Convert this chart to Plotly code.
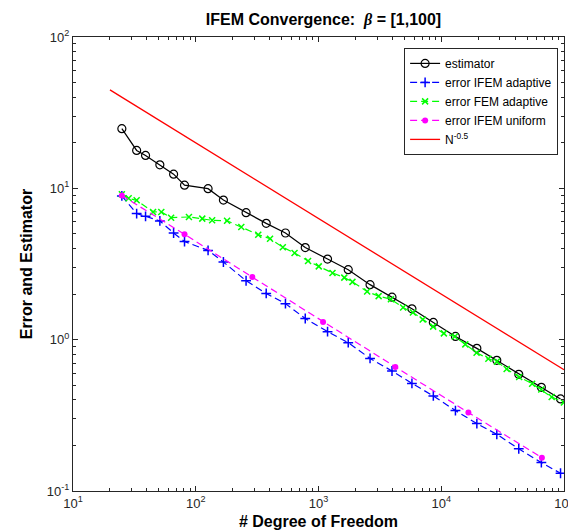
import plotly.graph_objects as go

# ---------------- data ----------------
N_adapt = [25, 33, 39, 51, 66, 81, 126, 168, 257, 375, 538, 780, 1185, 1747, 2630,
           3970, 5770, 8620, 13050, 19500, 28350, 42800, 65400, 93700]
est = [24.8, 17.8, 16.5, 14.3, 12.4, 10.5, 9.95, 8.37, 6.90, 5.87, 5.07, 4.06, 3.41,
       2.90, 2.31, 1.91, 1.60, 1.30, 1.05, 0.876, 0.730, 0.590, 0.484, 0.406]
err_ifem_adapt = [8.91, 6.81, 6.53, 6.09, 5.07, 4.45, 3.89, 3.26, 2.45, 2.02, 1.73, 1.38,
                  1.13, 0.955, 0.752, 0.621, 0.514, 0.425, 0.340, 0.279, 0.237, 0.190,
                  0.154, 0.131]

N_fem = [25, 28.4, 33, 44.9, 52.4, 63, 88, 113, 136, 180, 235, 323, 403, 512, 638, 822,
         1005, 1300, 1622, 1890, 2490, 3090, 3890, 4890, 5875, 7060, 8590, 10500, 12900,
         15700, 19400, 24200, 28400, 34100, 43100, 55000, 65300, 79400, 99700]
err_fem_adapt = [9.13, 8.59, 8.33, 6.98, 6.98, 6.40, 6.47, 6.31, 6.15, 6.10, 5.56, 4.94,
                 4.65, 4.08, 3.74, 3.31, 3.05, 2.76, 2.57, 2.41, 2.08, 1.94, 1.85, 1.63,
                 1.51, 1.36, 1.22, 1.10, 1.05, 0.931, 0.820, 0.748, 0.716, 0.640, 0.567,
                 0.512, 0.468, 0.418, 0.384]

N_unif = [25, 81, 289, 1089, 4225, 16641, 66049]
err_ifem_unif = [8.96, 4.97, 2.59, 1.31, 0.661, 0.330, 0.166]

N_ref = [20, 100000]
ref_rate = [44.7, 0.632]

x_tickvals = [10, 100, 1000, 10000, 100000]
x_ticktext = ["10<sup>1</sup>", "10<sup>2</sup>", "10<sup>3</sup>", "10<sup>4</sup>", "10<sup>5</sup>"]
y_tickvals = [0.1, 1, 10, 100]
y_ticktext = ["10<sup>-1</sup>", "10<sup>0</sup>", "10<sup>1</sup>", "10<sup>2</sup>"]

x_minor = [m * 10 ** k for k in range(1, 5) for m in range(2, 10)]
y_minor = [m * 10 ** k for k in range(-1, 2) for m in range(2, 10)]

FONT = "Liberation Sans, Arial, Helvetica, sans-serif"
AX = "#262626"

fig = go.Figure()
fig.add_trace(go.Scatter(x=N_adapt, y=est, mode="lines+markers", name="estimator",
                         line=dict(color="black", width=1.2),
                         marker=dict(symbol="circle-open", size=8, color="black",
                                     line=dict(width=1.2, color="black"))))
fig.add_trace(go.Scatter(x=N_adapt, y=err_ifem_adapt, mode="lines+markers",
                         name="error IFEM adaptive",
                         line=dict(color="#0000ff", width=1.2, dash="7px,4px"),
                         marker=dict(symbol="cross-thin-open", size=7, color="#0000ff",
                                     line=dict(width=1.5, color="#0000ff"))))
fig.add_trace(go.Scatter(x=N_fem, y=err_fem_adapt, mode="lines+markers",
                         name="error FEM adaptive",
                         line=dict(color="#00ff00", width=1.2, dash="7px,4px"),
                         marker=dict(symbol="x-thin-open", size=6, color="#00ff00",
                                     line=dict(width=1.5, color="#00ff00"))))
fig.add_trace(go.Scatter(x=N_unif, y=err_ifem_unif, mode="lines+markers",
                         name="error IFEM uniform",
                         line=dict(color="#ff00ff", width=1.2, dash="7px,4px"),
                         marker=dict(symbol="circle", size=6, color="#ff00ff")))
fig.add_trace(go.Scatter(x=N_ref, y=ref_rate, mode="lines", name="N<sup>-0.5</sup>",
                         line=dict(color="#ff0000", width=1.3)))

axis_common = dict(
    type="log", showgrid=False, zeroline=False, showline=True, linecolor=AX,
    linewidth=1, mirror="ticks", ticks="inside", ticklen=5, tickcolor=AX,
    tickmode="array", tickfont=dict(family=FONT, size=13, color=AX),
)

fig.update_xaxes(**axis_common, range=[1, 5], tickvals=x_tickvals, ticktext=x_ticktext,
                 minor=dict(ticks="inside", ticklen=3, tickcolor=AX, tickvals=x_minor),
                 title=dict(text="<b># Degree of Freedom</b>",
                            font=dict(family=FONT, size=16, color="black"), standoff=6))
fig.update_yaxes(**axis_common, range=[-1, 2], tickvals=y_tickvals, ticktext=y_ticktext,
                 minor=dict(ticks="inside", ticklen=3, tickcolor=AX, tickvals=y_minor),
                 title=dict(text="<b>Error and Estimator</b>",
                            font=dict(family=FONT, size=16, color="black"), standoff=10))

fig.update_layout(
    width=576, height=531,
    margin=dict(l=65, r=10, t=29, b=48, pad=0),
    paper_bgcolor="white", plot_bgcolor="white",
    title=dict(text="<b>IFEM Convergence:  <span style=\"font-family:'Liberation Serif',serif\"><i>β</i></span> = [1,100]</b>",
               x=(65 + 566) / 2 / 576, xanchor="center", y=1 - 11 / 531, yanchor="middle",
               font=dict(family=FONT, size=16, color="black")),
    legend=dict(x=0.988, xanchor="right", y=0.976, yanchor="top",
                bgcolor="white", bordercolor=AX, borderwidth=1,
                font=dict(family=FONT, size=12, color="black"),
                tracegroupgap=0, itemwidth=30),
    showlegend=True,
)

fig.write_html("out.html")
